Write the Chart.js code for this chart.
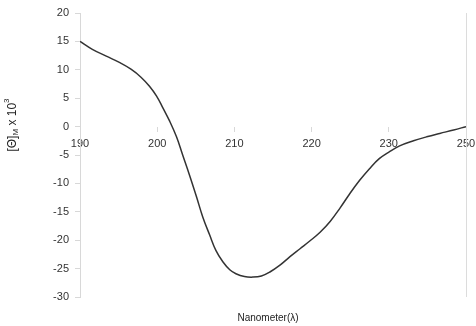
<!DOCTYPE html>
<html>
<head>
<meta charset="utf-8">
<script src="https://cdn.jsdelivr.net/npm/chart.js@4"></script>
<style>
html,body{margin:0;padding:0;background:#fff;}
#wrap{width:476px;height:326px;position:relative;}
</style>
</head>
<body>
<div id="wrap"><canvas id="c" width="476" height="326"></canvas></div>
<script>
// x positions on the (equally spaced) axis, tick labels as printed in the source
const xTickLabels = ['190', '200', '210', '220', '230', '250'];
const xPos = [190, 191.6, 193.4, 195.1, 196.6, 197.9, 199.0, 199.9, 200.7, 201.6, 202.5, 203.3, 204.2, 205.1, 205.9, 206.8, 207.6, 208.5, 209.4, 210.2, 211.3, 212.4, 213.5, 214.6, 215.9, 217.2, 218.5, 219.8, 221.1, 222.4, 223.7, 224.9, 226.2, 227.5, 228.8, 230.1, 231.4, 233.2, 234.9, 236.6, 238.4, 240];
const ellipticity = [15.0, 13.6, 12.4, 11.3, 10.1, 8.7, 7.1, 5.4, 3.4, 1.0, -1.8, -5.0, -8.6, -12.4, -15.9, -19.1, -21.8, -23.8, -25.2, -25.9, -26.4, -26.5, -26.3, -25.6, -24.4, -22.9, -21.5, -20.1, -18.6, -16.7, -14.3, -11.9, -9.5, -7.4, -5.6, -4.4, -3.4, -2.5, -1.8, -1.2, -0.6, 0];
const yTitle = {base: '[Θ]', sub: 'M', mid: ' x 10', sup: '3'};
const xTitle = 'Nanometer(λ)';

const FONT = '"Liberation Sans", Arial, sans-serif';

const extras = {
  id: 'extras',
  afterDraw(chart) {
    const ctx = chart.ctx;
    const a = chart.chartArea;
    const xs = chart.scales.x;
    ctx.save();
    ctx.strokeStyle = '#dcdcdc';
    ctx.lineWidth = 1;
    const rx = Math.round(xs.getPixelForValue(240)) + 0.5;
    ctx.beginPath();
    ctx.moveTo(rx, a.top);
    ctx.lineTo(rx, a.bottom);
    ctx.stroke();
    ctx.fillStyle = '#222';
    ctx.font = '10px ' + FONT;
    ctx.textAlign = 'center';
    ctx.textBaseline = 'middle';
    ctx.fillText(xTitle, 268, 318);
    ctx.translate(13, 125);
    ctx.rotate(-Math.PI / 2);
    ctx.textBaseline = 'middle';
    ctx.textAlign = 'left';
    const f1 = '12px ' + FONT, f2 = '8px ' + FONT;
    ctx.font = f1; const w1 = ctx.measureText(yTitle.base).width;
    ctx.font = f2; const w2 = ctx.measureText(yTitle.sub).width;
    ctx.font = f1; const w3 = ctx.measureText(yTitle.mid).width;
    ctx.font = f2; const w4 = ctx.measureText(yTitle.sup).width;
    let x = -(w1 + w2 + w3 + w4) / 2;
    ctx.font = f1; ctx.fillText(yTitle.base, x, 0); x += w1;
    ctx.font = f2; ctx.fillText(yTitle.sub, x, 3); x += w2;
    ctx.font = f1; ctx.fillText(yTitle.mid, x, 0); x += w3;
    ctx.font = f2; ctx.fillText(yTitle.sup, x, -6);
    ctx.restore();
  }
};

new Chart(document.getElementById('c'), {
  type: 'line',
  data: {
    datasets: [{
      data: xPos.map((v, i) => ({x: v, y: ellipticity[i]})),
      borderColor: '#333',
      borderWidth: 1.5,
      pointRadius: 0,
      tension: 0.4,
      fill: false
    }]
  },
  options: {
    responsive: false,
    animation: false,
    layout: {padding: {left: 0, top: 13, right: 10, bottom: 29}, autoPadding: false},
    plugins: {legend: {display: false}, tooltip: {enabled: false}},
    scales: {
      x: {
        type: 'linear',
        position: {y: 0},
        min: 190, max: 240,
        afterFit: (s) => { s.paddingRight = 0; s.paddingLeft = 0; },
        ticks: {
          stepSize: 10,
          color: '#333',
          font: {family: FONT, size: 11},
          padding: 6,
          maxRotation: 0,
          callback: (v) => xTickLabels[Math.round((v - 190) / 10)]
        },
        grid: {drawOnChartArea: false, drawTicks: true, tickLength: 5, color: '#d8d8d8'},
        border: {display: false}
      },
      y: {
        min: -30, max: 20,
        afterFit: (s) => { s.width = 80; s.paddingTop = 0; s.paddingBottom = 0; },
        ticks: {stepSize: 5, color: '#333', font: {family: FONT, size: 11}, padding: 6},
        grid: {drawOnChartArea: false, drawTicks: true, tickLength: 5, color: '#d8d8d8'},
        border: {display: true, color: '#d8d8d8'}
      }
    }
  },
  plugins: [extras]
});
</script>
</body>
</html>
